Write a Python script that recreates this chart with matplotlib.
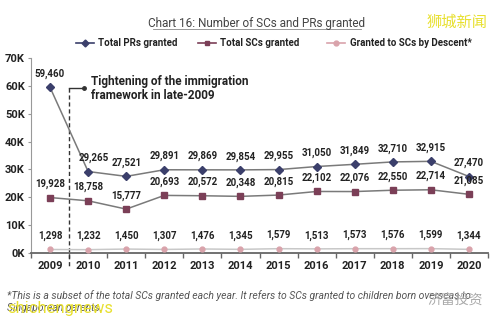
import matplotlib.pyplot as plt
import numpy as np

plt.rcParams['font.family'] = ['Roboto', 'DejaVu Sans']

years = ['2009', '2010', '2011', '2012', '2013', '2014', '2015', '2016', '2017', '2018', '2019', '2020']
prs = [59460, 29265, 27521, 29891, 29869, 29854, 29955, 31050, 31849, 32710, 32915, 27470]
scs = [19928, 18758, 15777, 20693, 20572, 20348, 20815, 22102, 22076, 22550, 22714, 21085]
descent = [1298, 1232, 1450, 1307, 1476, 1345, 1579, 1513, 1573, 1576, 1599, 1344]

pr_col = '#3b3f6b'
sc_col = '#7b3f57'
ds_col = '#d9a3ab'
line_col = '#7a7a7a'

fig = plt.figure(figsize=(5, 3.22), dpi=100)
ax = fig.add_axes([0.062, 0.214, 0.914, 0.606])
x = np.arange(len(years))

ax.plot(x, prs, color=line_col, lw=1.1, marker='D', ms=4, mfc=pr_col, mec=pr_col, zorder=3)
ax.plot(x, scs, color=line_col, lw=1.1, marker='s', ms=4, mfc=sc_col, mec=sc_col, zorder=3)
ax.plot(x, descent, color='#c8c8c8', lw=1.1, marker='o', ms=3.5, mfc=ds_col, mec=ds_col, zorder=3)

# data labels
for i in x:
    dx = 0.15 if i == 1 else 0
    ax.annotate(f'{prs[i]:,}', (i + dx, prs[i]), xytext=(0, 6), textcoords='offset points',
                ha='center', va='bottom', fontsize=7, fontweight='bold', color='#222222')
    ax.annotate(f'{scs[i]:,}', (i, scs[i]), xytext=(0, 6), textcoords='offset points',
                ha='center', va='bottom', fontsize=7, fontweight='bold', color='#222222')
    ax.annotate(f'{descent[i]:,}', (i, descent[i]), xytext=(0, 6), textcoords='offset points',
                ha='center', va='bottom', fontsize=7, fontweight='bold', color='#222222')

ax.set_xlim(-0.5, 11.5)
ax.set_ylim(0, 70000)
ax.set_yticks(np.arange(0, 70001, 10000))
ax.set_yticklabels([f'{v // 1000}K' for v in range(0, 70001, 10000)])
ax.set_xticks(x)
ax.set_xticklabels(years)
ax.set_xticks(np.arange(-0.5, 12, 1), minor=True)
ax.tick_params(axis='x', which='major', length=0, pad=6, labelsize=8)
ax.tick_params(axis='x', which='minor', length=3.5, color='#666666', width=1)
ax.tick_params(axis='y', length=2.5, color='#999999', pad=2, labelsize=8)
for lab in ax.get_xticklabels() + ax.get_yticklabels():
    lab.set_fontweight('bold')
    lab.set_color('#222222')
for s in ['top', 'right']:
    ax.spines[s].set_visible(False)
ax.spines['left'].set_color('#999999')
ax.spines['bottom'].set_color('#666666')
ax.spines['bottom'].set_linewidth(1.3)

# tightening annotation
ax.plot([0.5, 0.5], [59100, -5000], color='#333333', lw=1, ls=(0, (3, 2)), clip_on=False, zorder=2)
ax.plot([0.5, 0.89], [59100, 59100], color='#333333', lw=1, zorder=2)
ax.plot([0.89], [59100], marker='o', ms=2.5, color='#333333', zorder=2)
ax.text(1.08, 59100, 'Tightening of the immigration\nframework in late-2009', ha='left', va='center',
        fontsize=8.5, fontweight='bold', color='#222222', linespacing=1.1)

# title and legend
fig.text(0.514, 0.927, 'Chart 16: Number of SCs and PRs granted', ha='center', va='center',
         fontsize=8.5, color='#444444')
fig.add_artist(plt.Line2D([0.306, 0.722], [0.91, 0.91], color='#888888', lw=0.6))

leg = [(0.17, 'D', pr_col, 'Total PRs granted'),
       (0.414, 's', sc_col, 'Total SCs granted'),
       (0.672, 'o', ds_col, 'Granted to SCs by Descent*')]
for lx, m, c, lab in leg:
    fig.add_artist(plt.Line2D([lx - 0.018, lx + 0.018], [0.867, 0.867], color=c, lw=1.2))
    fig.add_artist(plt.Line2D([lx], [0.867], marker=m, ms=3.5, color=c))
    fig.text(lx + 0.027, 0.867, lab, ha='left', va='center', fontsize=7, fontweight='bold', color='#222222')

# footnote and watermarks
fig.text(0.014, 0.083, '*This is a subset of the total SCs granted each year. It refers to SCs granted to children born overseas to',
         ha='left', va='center', fontsize=7.5, style='italic', color='#555555')
fig.text(0.014, 0.043, 'Singaporean parents.', ha='left', va='center', fontsize=7.5, style='italic', color='#555555')
fig.text(0.014, 0.042, 'shichengnews', ha='left', va='center', fontsize=12, color='#e8e030')
fig.text(0.975, 0.93, '狮城新闻', ha='right', va='center', fontsize=11, color='#e8e030',
         family=['Noto Sans CJK SC', 'DejaVu Sans'])
fig.text(0.966, 0.07, '济富投资', ha='right', va='center', fontsize=10, color='#aaaaaa',
         family=['Noto Sans CJK SC', 'DejaVu Sans'])

fig.savefig('out.png', dpi=100)
